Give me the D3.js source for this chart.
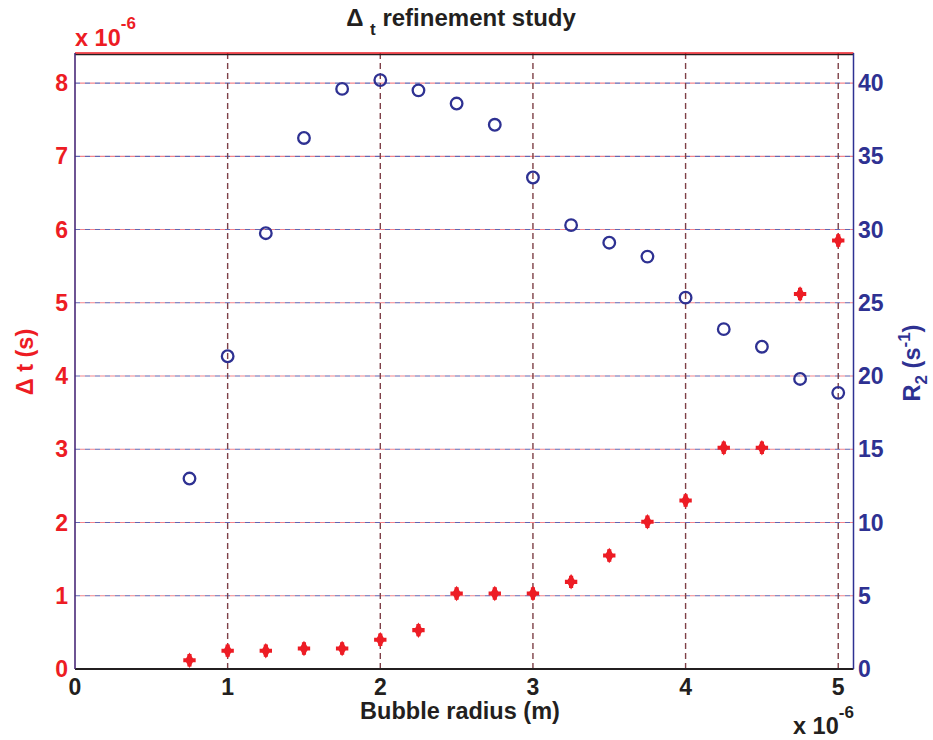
<!DOCTYPE html>
<html>
<head>
<meta charset="utf-8">
<script src="https://cdn.jsdelivr.net/npm/d3@7"></script>
<style>
  body { margin: 0; background: #fff; }
  svg { display: block; font-family: "Liberation Sans", Arial, sans-serif; font-weight: bold; }
</style>
</head>
<body>
<svg id="chart" width="933" height="740"></svg>
<script>
// bubble radius (x 1e-6 m)
var radius = [0.75, 1.0, 1.25, 1.5, 1.75, 2.0, 2.25, 2.5, 2.75, 3.0, 3.25, 3.5, 3.75, 4.0, 4.25, 4.5, 4.75, 5.0];
// time step (x 1e-6 s)
var deltaT = [0.12, 0.25, 0.25, 0.28, 0.28, 0.40, 0.53, 1.03, 1.03, 1.03, 1.19, 1.55, 2.01, 2.30, 3.02, 3.02, 5.12, 5.85];
// relaxation rate R2 (1/s)
var r2 = [13.0, 21.35, 29.75, 36.25, 39.6, 40.2, 39.5, 38.6, 37.15, 33.55, 30.3, 29.1, 28.15, 25.35, 23.2, 22.0, 19.8, 18.85];

var xTicks = [0, 1, 2, 3, 4, 5];
var yLeftTicks = [0, 1, 2, 3, 4, 5, 6, 7, 8];
var yRightTicks = [0, 5, 10, 15, 20, 25, 30, 35, 40];

var RED = '#ed1c24', BLUE = '#2e3192', DARK = '#231f20';

var svg = d3.select('#chart');
var mLeft = 75, mRight = 853.5, mTop = 53, mBottom = 669;

var x = d3.scaleLinear().domain([0, 5.1]).range([mLeft, mRight]);
var yL = d3.scaleLinear().domain([0, 8.41]).range([mBottom, mTop]);
var yR = d3.scaleLinear().domain([0, 42.05]).range([mBottom, mTop]);

// horizontal grid, drawn by both axes (blue + red dashes interleave)
var hgrid = svg.append('g');
hgrid.selectAll('line.gb').data(yRightTicks.slice(1)).enter().append('line')
  .attr('x1', mLeft).attr('x2', mRight)
  .attr('y1', function(d) { return yR(d); })
  .attr('y2', function(d) { return yR(d); })
  .attr('stroke', '#6466b0').attr('stroke-width', 1.2)
  .attr('stroke-dasharray', '5,5');
hgrid.selectAll('line.gr').data(yLeftTicks.slice(1)).enter().append('line')
  .attr('x1', mLeft).attr('x2', mRight)
  .attr('y1', function(d) { return yL(d); })
  .attr('y2', function(d) { return yL(d); })
  .attr('stroke', '#f2848b').attr('stroke-width', 1.2)
  .attr('stroke-dasharray', '5,5').attr('stroke-dashoffset', 5);

// vertical grid
svg.append('g').selectAll('line').data(xTicks.slice(1)).enter().append('line')
  .attr('x1', function(d) { return x(d); })
  .attr('x2', function(d) { return x(d); })
  .attr('y1', mTop).attr('y2', mBottom)
  .attr('stroke', '#7e4047').attr('stroke-width', 1.4)
  .attr('stroke-dasharray', '6,4');

// axis frame
svg.append('line').attr('x1', mLeft).attr('x2', mRight).attr('y1', mTop + 1.5).attr('y2', mTop + 1.5)
  .attr('stroke', DARK).attr('stroke-width', 1.3);
svg.append('line').attr('x1', mLeft).attr('x2', mRight).attr('y1', mTop).attr('y2', mTop)
  .attr('stroke', RED).attr('stroke-width', 1.5);
svg.append('line').attr('x1', mLeft).attr('x2', mRight).attr('y1', mBottom).attr('y2', mBottom)
  .attr('stroke', DARK).attr('stroke-width', 1.8);
svg.append('line').attr('x1', mLeft).attr('x2', mLeft).attr('y1', mTop).attr('y2', mBottom)
  .attr('stroke', '#4a2a78').attr('stroke-width', 1.6);
svg.append('line').attr('x1', mRight).attr('x2', mRight).attr('y1', mTop).attr('y2', mBottom)
  .attr('stroke', BLUE).attr('stroke-width', 1.5);

// tick labels
svg.append('g').selectAll('text').data(xTicks).enter().append('text')
  .attr('x', function(d) { return x(d); }).attr('y', 695)
  .attr('text-anchor', 'middle').attr('fill', DARK).attr('font-size', 23)
  .text(function(d) { return d; });
svg.append('g').selectAll('text').data(yLeftTicks).enter().append('text')
  .attr('x', 68).attr('y', function(d) { return yL(d) + 8; })
  .attr('text-anchor', 'end').attr('fill', RED).attr('font-size', 23)
  .text(function(d) { return d; });
svg.append('g').selectAll('text').data(yRightTicks).enter().append('text')
  .attr('x', 858).attr('y', function(d) { return yR(d) + 8; })
  .attr('text-anchor', 'start').attr('fill', BLUE).attr('font-size', 23)
  .text(function(d) { return d; });

// exponent labels
var expL = svg.append('text').attr('x', 75).attr('y', 46).attr('fill', RED).attr('font-size', 23.5);
expL.append('tspan').text('x 10');
expL.append('tspan').attr('dy', -17).attr('font-size', 17).text('-6');
var expB = svg.append('text').attr('x', 793).attr('y', 734).attr('fill', DARK).attr('font-size', 23.5);
expB.append('tspan').text('x 10');
expB.append('tspan').attr('dy', -16).attr('font-size', 17).text('-6');

// title
var title = svg.append('text').attr('x', 461).attr('y', 26).attr('text-anchor', 'middle')
  .attr('fill', DARK).attr('font-size', 24);
title.append('tspan').text('\u0394 ');
title.append('tspan').attr('dy', 9).attr('font-size', 17).text('t');
title.append('tspan').attr('dy', -9).text(' refinement study');

// axis labels
svg.append('text').attr('x', 460).attr('y', 719).attr('text-anchor', 'middle')
  .attr('fill', DARK).attr('font-size', 23.5).text('Bubble radius (m)');
svg.append('text').attr('transform', 'translate(33,362) rotate(-90)')
  .attr('text-anchor', 'middle').attr('fill', RED).attr('font-size', 23.5).text('\u0394 t (s)');
var lr = svg.append('text').attr('transform', 'translate(920,363) rotate(-90)')
  .attr('text-anchor', 'middle').attr('fill', BLUE).attr('font-size', 23.5);
lr.append('tspan').text('R');
lr.append('tspan').attr('dy', 7).attr('font-size', 17).text('2');
lr.append('tspan').attr('dy', -7).text(' (s');
lr.append('tspan').attr('dy', -10).attr('font-size', 17).text('-1');
lr.append('tspan').attr('dy', 10).text(')');

// R2 circles
svg.append('g').selectAll('circle').data(radius).enter().append('circle')
  .attr('cx', function(d) { return x(d); })
  .attr('cy', function(d, i) { return yR(r2[i]); })
  .attr('r', 5.8).attr('fill', 'none').attr('stroke', BLUE).attr('stroke-width', 2.3);

// delta t markers
var cross = d3.symbol().type(d3.symbolCross).size(85);
var diamond = d3.symbol().type(d3.symbolDiamond).size(70);
var marks = svg.append('g').selectAll('g').data(radius).enter().append('g')
  .attr('transform', function(d, i) { return 'translate(' + x(d) + ',' + yL(deltaT[i]) + ')'; });
marks.append('path').attr('d', cross).attr('fill', RED);
marks.append('path').attr('d', diamond).attr('fill', RED);
</script>
</body>
</html>
